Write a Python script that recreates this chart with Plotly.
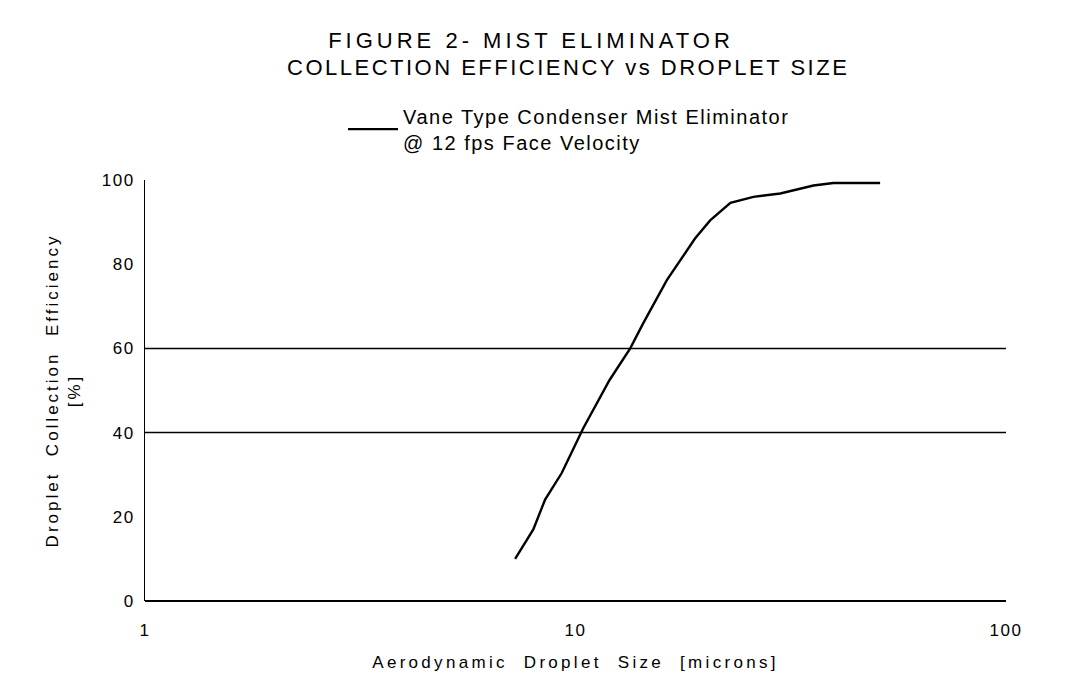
import plotly.graph_objects as go

droplet_size = [7.24, 7.98, 8.5, 9.29, 10.43, 12.0, 13.4, 14.37, 16.3, 18.95, 20.55, 22.9, 25.9, 29.9, 35.7, 39.7, 51.0]
efficiency = [10.0, 17.0, 24.1, 30.4, 41.1, 52.5, 60.0, 66.0, 76.2, 86.1, 90.4, 94.6, 96.0, 96.8, 98.7, 99.3, 99.3]
y_ticks = [0, 20, 40, 60, 80, 100]
x_ticks = [1, 10, 100]
ref_lines = [40, 60]

FONT = "Liberation Sans, Arial, sans-serif"


def sp(text, px):
    return f'<span style="letter-spacing:{px}px">{text}</span>'


fig = go.Figure()
fig.add_trace(go.Scatter(
    x=droplet_size, y=efficiency, mode="lines",
    line=dict(color="black", width=2.4),
    name=sp("Vane Type Condenser Mist Eliminator", 1.5) + "<br>" + sp("@ 12 fps Face Velocity", 1.5),
    showlegend=True,
))
for v in ref_lines:
    fig.add_hline(y=v, line=dict(color="black", width=1.5), layer="below")

fig.add_annotation(
    text=sp("COLLECTION EFFICIENCY vs DROPLET SIZE", 2.5),
    xref="paper", yref="paper", x=0.4913, y=1.268,
    xanchor="center", yanchor="middle", showarrow=False,
    font=dict(family=FONT, size=22, color="black"),
)

fig.update_layout(
    width=1066, height=674,
    paper_bgcolor="white", plot_bgcolor="white",
    margin=dict(l=137, r=68, t=172, b=81),
    font=dict(family=FONT, color="black", size=17),
    title=dict(
        text=sp("FIGURE 2- MIST ELIMINATOR", 4),
        x=0.4906, xanchor="center", y=0.9525, yanchor="middle",
        font=dict(family=FONT, size=22, color="black"),
    ),
    showlegend=True,
    legend=dict(
        x=0.23, xanchor="left", y=1.198, yanchor="top",
        bgcolor="rgba(0,0,0,0)", borderwidth=0,
        font=dict(family=FONT, size=20, color="black"),
        itemwidth=50,
    ),
    xaxis=dict(
        type="log", range=[0, 2],
        tickvals=x_ticks, ticktext=[sp(str(v), 1.5) for v in x_ticks],
        showgrid=False, zeroline=False, showline=False,
        ticks="", ticklabelstandoff=17,
        tickfont=dict(size=17),
        title=dict(text=sp("Aerodynamic  Droplet  Size  [microns]", 3.3), font=dict(family=FONT, size=17), standoff=17),
    ),
    yaxis=dict(
        range=[0, 100],
        tickvals=y_ticks, ticktext=[sp(str(v), 1.5) for v in y_ticks],
        showgrid=False, zeroline=True, zerolinecolor="black", zerolinewidth=2,
        showline=True, linecolor="black", linewidth=1,
        ticks="", ticklabelstandoff=6,
        tickfont=dict(size=17),
        title=dict(text=sp("Droplet  Collection  Efficiency", 3) + "<br>" + sp("[%]", 3), font=dict(family=FONT, size=17), standoff=16),
    ),
)

fig.write_html("out.html")
